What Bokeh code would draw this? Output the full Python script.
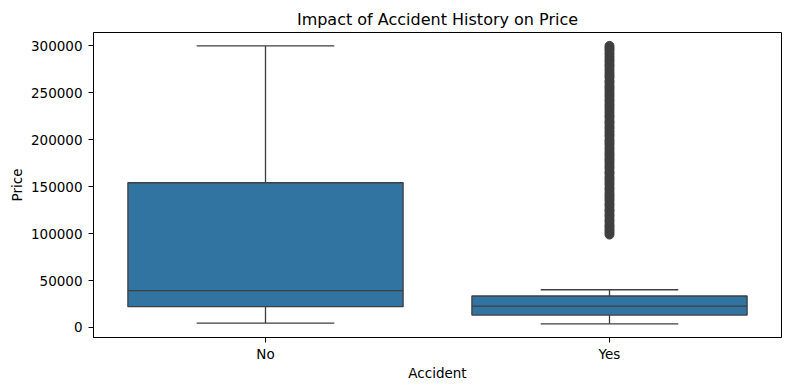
from bokeh.plotting import figure
from bokeh.models import ColumnDataSource, FactorRange, Range1d, FixedTicker, BasicTickFormatter
from bokeh.transform import dodge
from bokeh.embed import file_html
from bokeh.resources import INLINE

# ---- data ----
categories = ["No", "Yes"]
lower_whisker = [4700, 3900]
q1 = [22100, 13200]
median = [39200, 22800]
q3 = [154200, 33500]
upper_whisker = [300000, 40200]
outlier_category = "Yes"
outliers = [99000, 101500, 104000, 106800, 109000, 112500, 115000, 118200, 120500, 123800,
            126000, 129500, 132000, 135200, 137800, 140500, 143000, 146500, 149000, 152300,
            155000, 158000, 160500, 163800, 166000, 169500, 172000, 175200, 178000, 180500,
            183500, 186000, 189200, 192000, 195000, 197500, 200000, 203500, 206000, 209000,
            212000, 214500, 217800, 220000, 223500, 226000, 229000, 232000, 235000, 237500,
            240500, 243000, 246200, 249000, 252000, 255000, 257500, 260800, 263000, 266500,
            269000, 272000, 275000, 278000, 280500, 283500, 286000, 289000, 292000, 295000,
            297500, 300000]
y_ticks = [0, 50000, 100000, 150000, 200000, 250000, 300000]

FONT = "DejaVu Sans"
EDGE = "#3f3f3f"
FILL = "#3274a1"

src = ColumnDataSource(dict(cat=categories, lw=lower_whisker, q1=q1, med=median,
                            q3=q3, uw=upper_whisker))
out_src = ColumnDataSource(dict(cat=[outlier_category] * len(outliers), y=outliers))

p = figure(width=790, height=390, output_backend="svg", toolbar_location=None,
           x_range=FactorRange(factors=categories, range_padding=0),
           y_range=Range1d(-10700, 314300),
           title="Impact of Accident History on Price",
           min_border_left=93, min_border_right=9, min_border_top=32, min_border_bottom=53)

p.xgrid.visible = False
p.ygrid.visible = False
p.background_fill_color = "white"
p.border_fill_color = "white"
p.outline_line_color = "black"
p.outline_line_width = 1

# title
p.title.text_font = FONT
p.title.text_font_size = "16px"
p.title.text_font_style = "normal"
p.title.text_color = "black"
p.title.align = "center"
p.title.standoff = 7

# whiskers
p.segment(x0="cat", y0="q3", x1="cat", y1="uw", source=src, line_color=EDGE, line_width=1.3)
p.segment(x0="cat", y0="q1", x1="cat", y1="lw", source=src, line_color=EDGE, line_width=1.3)
# caps
p.segment(x0=dodge("cat", -0.2, range=p.x_range), y0="uw",
          x1=dodge("cat", 0.2, range=p.x_range), y1="uw", source=src, line_color=EDGE, line_width=1.3)
p.segment(x0=dodge("cat", -0.2, range=p.x_range), y0="lw",
          x1=dodge("cat", 0.2, range=p.x_range), y1="lw", source=src, line_color=EDGE, line_width=1.3)
# boxes
p.vbar(x="cat", width=0.8, bottom="q1", top="q3", source=src,
       fill_color=FILL, line_color=EDGE, line_width=1.3)
# medians
p.segment(x0=dodge("cat", -0.4, range=p.x_range), y0="med",
          x1=dodge("cat", 0.4, range=p.x_range), y1="med", source=src, line_color=EDGE, line_width=1.3)
# outliers
p.scatter(x="cat", y="y", source=out_src, size=9, marker="circle",
          fill_color=EDGE, line_color=EDGE, line_width=1)

# axes
for ax in (p.xaxis[0], p.yaxis[0]):
    ax.major_label_text_font = FONT
    ax.major_label_text_font_size = "13.5px"
    ax.major_label_text_color = "black"
    ax.axis_label_text_font = FONT
    ax.axis_label_text_font_size = "13.5px"
    ax.axis_label_text_font_style = "normal"
    ax.axis_label_text_color = "black"
    ax.major_tick_in = 0
    ax.major_tick_out = 5
    ax.major_tick_line_color = "black"
    ax.minor_tick_line_color = None
    ax.axis_line_color = "black"

p.xaxis.axis_label = "Accident"
p.yaxis.axis_label = "Price"
p.xaxis.major_label_standoff = 3
p.xaxis.axis_label_standoff = 0
p.yaxis.major_label_standoff = 6
p.yaxis.axis_label_standoff = 3
p.yaxis.ticker = FixedTicker(ticks=y_ticks)
p.yaxis.formatter = BasicTickFormatter(use_scientific=False)
p.yaxis.major_label_orientation = "horizontal"

open("out.html", "w").write(file_html(p, INLINE))
